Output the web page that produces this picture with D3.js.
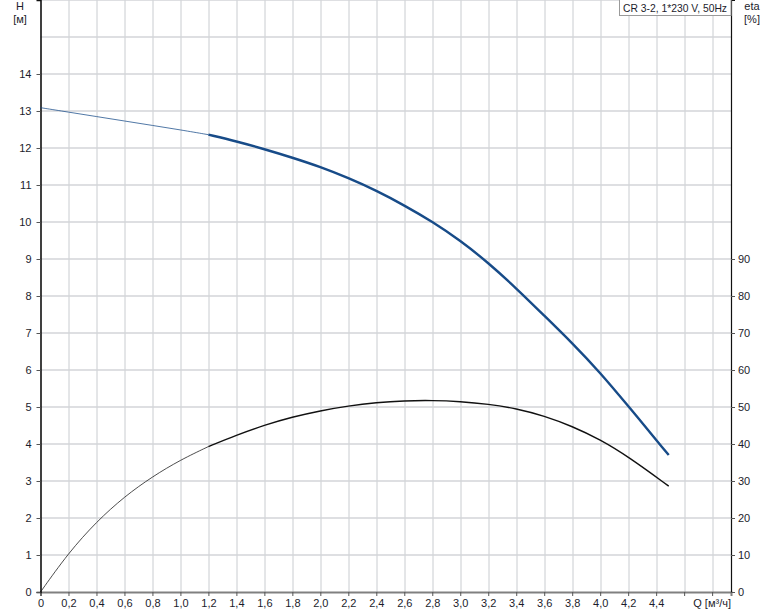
<!DOCTYPE html>
<html>
<head>
<meta charset="utf-8">
<script src="https://cdn.jsdelivr.net/npm/d3@7"></script>
<style>
	body { margin: 0; background: #fff; }
	svg text { font-family: 'Liberation Sans', Arial, sans-serif; font-size: 11px; fill: #1c1c2c; }
</style>
</head>
<body>
<div id="chart"><svg width="774" height="611"></svg></div>
<script>
// flow Q [m3/h] for head curve
const qHead = [ 0, 0.2, 0.4, 0.6, 0.8, 1.0, 1.2, 1.4, 1.6, 1.8, 2.0, 2.2, 2.4, 2.6, 2.8, 3.0, 3.2, 3.4, 3.6, 3.8, 4.0, 4.2, 4.49 ];
const head = [ 13.09, 12.97, 12.85, 12.73, 12.61, 12.49, 12.36, 12.18, 11.97, 11.74, 11.49, 11.19, 10.85, 10.45, 10.01, 9.5, 8.9, 8.21, 7.47, 6.73, 5.93, 5.03, 3.7 ];

// flow Q for efficiency curve
const qEta = [ 0, 0.2, 0.4, 0.6, 0.8, 1.0, 1.2, 1.4, 1.6, 1.8, 2.0, 2.2, 2.4, 2.6, 2.8, 3.0, 3.2, 3.4, 3.6, 3.8, 4.0, 4.2, 4.49 ];
const eta = [ 0, 10.6, 19.0, 25.8, 31.2, 35.7, 39.3, 42.4, 45.1, 47.3, 49.0, 50.3, 51.2, 51.7, 51.8, 51.5, 50.8, 49.6, 47.6, 44.8, 41.2, 36.6, 28.6 ];

// from this flow on the curves are drawn bold
const qBold = 1.2;

const xTicks = [ 0, 0.2, 0.4, 0.6, 0.8, 1.0, 1.2, 1.4, 1.6, 1.8, 2.0, 2.2, 2.4, 2.6, 2.8, 3.0, 3.2, 3.4, 3.6, 3.8, 4.0, 4.2, 4.4 ];
const xGrid = d3.range(0, 25).map((i) => +(i * 0.2).toFixed(1));
const hTicks = d3.range(0, 15);
const hGrid = d3.range(0, 17);
const etaTicks = d3.range(0, 100, 10);

const title = 'CR 3-2, 1*230 V, 50Hz';

/* BASIC SETUP */
const margin = { top: 0, left: 40.5, right: 43, bottom: 19 };
const width = 774;
const height = 611;
const plotWidth = width - margin.left - margin.right;
const plotHeight = height - margin.top - margin.bottom;

const svg = d3.select('#chart').select('svg');

const xScale = d3.scaleLinear().domain([ 0, 4.935 ]).range([ 0, plotWidth ]);
const yScale = d3.scaleLinear().domain([ 0, 16 ]).range([ plotHeight, 0 ]);
const etaScale = d3.scaleLinear().domain([ 0, 160 ]).range([ plotHeight, 0 ]);

const plot = svg.append('g').attr('transform', `translate(${margin.left}, ${margin.top})`);

/* GRID */
plot
	.selectAll('.vGrid')
	.data(xGrid.filter((d) => d > 0))
	.enter()
	.append('line')
	.attr('x1', (d) => Math.round(xScale(d)) + 0.5)
	.attr('x2', (d) => Math.round(xScale(d)) + 0.5)
	.attr('y1', 0)
	.attr('y2', plotHeight)
	.attr('stroke', '#c9ccd0')
	.attr('stroke-width', 1);

plot
	.selectAll('.hGrid')
	.data(hGrid.filter((d) => d > 0))
	.enter()
	.append('line')
	.attr('x1', 0)
	.attr('x2', plotWidth)
	.attr('y1', (d) => yScale(d))
	.attr('y2', (d) => yScale(d))
	.attr('stroke', '#d3d5d8')
	.attr('stroke-width', 1.6);

/* AXES */
const fmtQ = (d) => (d === 0 ? '0' : d3.format('.1f')(d).replace('.', ','));
const xAxis = plot
	.append('g')
	.attr('transform', `translate(0, ${plotHeight})`)
	.call(d3.axisBottom(xScale).tickValues(xGrid.filter((d) => d < 4.9)).tickSize(4).tickPadding(3)
		.tickFormat((d) => (xTicks.some((t) => Math.abs(t - d) < 1e-6) ? fmtQ(d) : '')));
xAxis.select('.domain').attr('stroke', '#808080').attr('stroke-width', 2);
xAxis.selectAll('.tick line').attr('stroke', '#555');
xAxis.selectAll('.tick text').attr('fill', null).style('font-size', '11px');

const yAxis = plot.append('g').call(d3.axisLeft(yScale).tickValues(hTicks).tickSize(4).tickPadding(5));
yAxis.select('.domain').attr('stroke', '#111').attr('stroke-width', 1.6);
yAxis.selectAll('.tick line').attr('stroke', '#555');
yAxis.selectAll('.tick text').attr('fill', null).style('font-size', '11px');

const etaAxis = plot
	.append('g')
	.attr('transform', `translate(${plotWidth}, 0)`)
	.call(d3.axisRight(etaScale).tickValues(etaTicks).tickSize(4).tickPadding(3));
etaAxis.select('.domain').attr('stroke', '#111').attr('stroke-width', 1.2);
etaAxis.selectAll('.tick line').attr('stroke', '#555');
etaAxis.selectAll('.tick text').attr('fill', null).style('font-size', '11px');

/* CURVES */
const headData = qHead.map((q, i) => ({ q: q, v: head[i] }));
const etaData = qEta.map((q, i) => ({ q: q, v: eta[i] }));

function drawCurve(data, scale, color, thin, bold) {
	const line = d3.line().x((d) => xScale(d.q)).y((d) => scale(d.v)).curve(d3.curveBasis);
	plot
		.append('path')
		.attr('d', line(data.filter((d) => d.q <= qBold)))
		.attr('fill', 'none')
		.attr('stroke', color)
		.attr('stroke-opacity', 0.75)
		.attr('stroke-width', thin);
	plot
		.append('path')
		.attr('d', line(data.filter((d) => d.q >= qBold)))
		.attr('fill', 'none')
		.attr('stroke', color)
		.attr('stroke-width', bold);
}

drawCurve(etaData, etaScale, '#111', 1, 1.4);
drawCurve(headData, yScale, '#174b88', 1, 2.4);

/* LABELS */
svg.append('text').attr('x', 20).attr('y', 10).attr('text-anchor', 'middle').text('H');
svg.append('text').attr('x', 20).attr('y', 23).attr('text-anchor', 'middle').text('[м]');
svg.append('text').attr('x', 752).attr('y', 10).attr('text-anchor', 'middle').text('eta');
svg.append('text').attr('x', 752).attr('y', 23).attr('text-anchor', 'middle').text('[%]');
svg
	.append('text')
	.attr('x', margin.left + xScale(4.8))
	.attr('y', 607)
	.attr('text-anchor', 'middle')
	.text('Q [м³/ч]');

/* TITLE BOX */
const box = svg.append('g');
box
	.append('rect')
	.attr('x', 619.5)
	.attr('y', -1)
	.attr('width', margin.left + plotWidth - 619.5)
	.attr('height', 16.5)
	.attr('fill', '#fff')
	.attr('stroke', '#9a9a9a');
box
	.append('text')
	.attr('x', 623)
	.attr('y', 11.5)
	.attr('textLength', 104)
	.attr('lengthAdjust', 'spacingAndGlyphs')
	.text(title);
</script>
</body>
</html>
